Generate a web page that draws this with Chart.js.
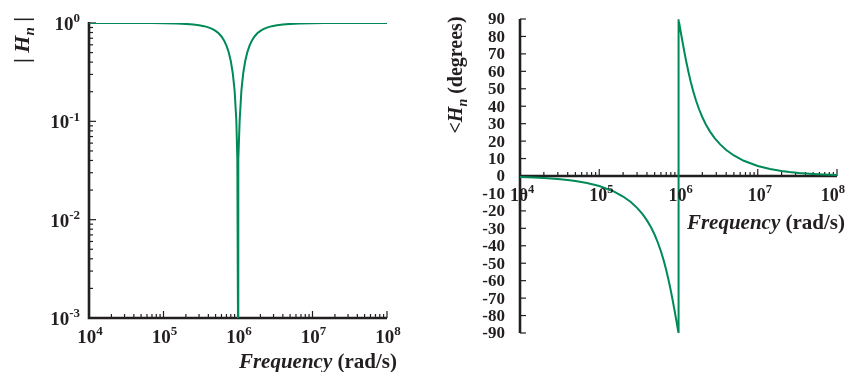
<!DOCTYPE html>
<html>
<head>
<meta charset="utf-8">
<script src="https://cdn.jsdelivr.net/npm/chart.js@4/dist/chart.umd.min.js"></script>
<style>
  html, body { margin: 0; padding: 0; background: #fff; }
  #wrap { position: relative; width: 847px; height: 372px; overflow: hidden; }
  canvas { position: absolute; top: 0; }
</style>
</head>
<body>
<div id="wrap">
  <canvas id="magChart" width="420" height="372" style="left:0;width:420px;height:372px;"></canvas>
  <canvas id="phaseChart" width="427" height="372" style="left:420px;width:427px;height:372px;"></canvas>
</div>
<script>
// ── Dados (filtro notch, w0 = 1e6 rad/s)
const FREQ = [
  1e4, 1.5e4, 2e4, 3e4, 4e4, 5e4, 7e4, 1e5, 1.5e5, 2e5, 2.5e5, 3e5, 3.5e5, 4e5, 4.5e5, 5e5,
  5.5e5, 6e5, 6.5e5, 7e5, 7.5e5, 8e5, 8.5e5, 9e5, 9.5e5, 9.8e5, 9.9e5, 9.95e5, 9.99e5, 1e6,
  1.001e6, 1.005e6, 1.0101e6, 1.0204e6, 1.0526e6, 1.1111e6, 1.1765e6, 1.25e6, 1.3333e6,
  1.4286e6, 1.5385e6, 1.6667e6, 1.8182e6, 2e6, 2.2222e6, 2.5e6, 2.8571e6, 3.3333e6,
  4e6, 5e6, 6.6667e6, 1e7, 1.4286e7, 2e7, 2.5e7, 3.3333e7, 5e7, 6.6667e7, 1e8
];
const MAG = [
  0.99995, 0.99989, 0.9998, 0.99955, 0.9992, 0.9988, 0.99754, 0.9949, 0.9884, 0.9790,
  0.9662, 0.9497, 0.9289, 0.9029, 0.8709, 0.8321, 0.7852, 0.7295, 0.6642, 0.5889, 0.5039,
  0.4104, 0.3103, 0.2066, 0.1021, 0.0404, 0.0201, 0.0100, 0.0020, 0.001,
  0.0020, 0.0100, 0.0201, 0.0404, 0.1021, 0.2066, 0.3103, 0.4104, 0.5039, 0.5889, 0.6642,
  0.7295, 0.7852, 0.8321, 0.8709, 0.9029, 0.9289, 0.9497, 0.9662, 0.9790, 0.9884, 0.9949,
  0.99754, 0.9988, 0.9992, 0.99955, 0.9998, 0.99989, 0.99995
];
const PHASE = [
  -0.57, -0.86, -1.15, -1.72, -2.29, -2.87, -4.02, -5.77, -8.72, -11.77, -14.93, -18.25,
  -21.75, -25.46, -29.43, -33.69, -38.26, -43.15, -48.38, -53.92, -59.74, -65.77, -71.92,
  -78.08, -84.14, -87.69, -88.85, -89.43, -89.89, null,
  89.89, 89.43, 88.85, 87.69, 84.14, 78.08, 71.92, 65.77, 59.74, 53.92, 48.38, 43.15,
  38.26, 33.69, 29.43, 25.46, 21.75, 18.25, 14.93, 11.77, 8.72, 5.77, 4.02, 2.87, 2.29,
  1.72, 1.15, 0.86, 0.57
];

// ── Ticks
const X_DECADES = [1e4, 1e5, 1e6, 1e7, 1e8];
const X_EXP = ['4', '5', '6', '7', '8'];
const MAG_DECADES = [1, 0.1, 0.01, 0.001];
const MAG_EXP = ['0', '-1', '-2', '-3'];
const MINOR = [2, 3, 4, 5, 6, 7, 8, 9];
const PHASE_TICKS = [90, 80, 70, 60, 50, 40, 30, 20, 10, 0, -10, -20, -30, -40, -50, -60, -70, -80, -90];

const GREEN = '#008a57';
const INK = '#231f20';
const SERIF = '"Liberation Serif", "Times New Roman", serif';

// desenha "10^exp"
function drawPow(ctx, exp, x, y, align, base, sup, maxRight) {
  ctx.font = `bold ${base}px ${SERIF}`;
  const w1 = ctx.measureText('10').width;
  ctx.font = `bold ${sup}px ${SERIF}`;
  const w2 = ctx.measureText(exp).width;
  let x0 = x;
  if (align === 'center') x0 = x - (w1 + w2) / 2;
  else if (align === 'right') x0 = x - w1 - w2;
  if (maxRight && x0 + w1 + w2 > maxRight) x0 = maxRight - w1 - w2;
  ctx.textAlign = 'left';
  ctx.textBaseline = 'alphabetic';
  ctx.fillStyle = INK;
  ctx.font = `bold ${base}px ${SERIF}`;
  ctx.fillText('10', x0, y);
  ctx.font = `bold ${sup}px ${SERIF}`;
  ctx.fillText(exp, x0 + w1, y - base * 0.4);
}

// desenha sequência de pedaços de texto [texto, fonte, deslocamento y]
function drawRuns(ctx, runs, x, y, align) {
  let total = 0;
  runs.forEach(r => { ctx.font = r[1]; total += ctx.measureText(r[0]).width; });
  let cx = align === 'center' ? x - total / 2 : align === 'right' ? x - total : x;
  ctx.textAlign = 'left';
  ctx.textBaseline = 'alphabetic';
  ctx.fillStyle = INK;
  runs.forEach(r => {
    ctx.font = r[1];
    ctx.fillText(r[0], cx, y + (r[2] || 0));
    cx += ctx.measureText(r[0]).width;
  });
}

function freqTitle(ctx, xRight, yBase) {
  drawRuns(ctx, [
    ['Frequency', `italic bold 21px ${SERIF}`],
    [' (rad/s)', `bold 21px ${SERIF}`]
  ], xRight, yBase, 'right');
}

// x log ticks (para cima, a partir da linha yAxis)
function drawXLogTicks(ctx, xs, yAxis) {
  ctx.strokeStyle = INK;
  ctx.lineWidth = 1.2;
  X_DECADES.forEach((d, i) => {
    const vals = [d].concat(i < X_DECADES.length - 1 ? MINOR.map(m => d * m) : []);
    vals.forEach((v, j) => {
      const px = xs.getPixelForValue(v);
      const len = j === 0 ? 7 : 4;
      ctx.beginPath(); ctx.moveTo(px, yAxis); ctx.lineTo(px, yAxis - len); ctx.stroke();
    });
  });
}

const magAxes = {
  id: 'magAxes',
  beforeDatasetsDraw(chart) {
    const { ctx, chartArea: a, scales: { x, y } } = chart;
    ctx.save();
    drawXLogTicks(ctx, x, a.bottom);
    ctx.lineWidth = 1.2;
    MAG_DECADES.forEach((d, i) => {
      const vals = [d].concat(i < MAG_DECADES.length - 1 ? MINOR.map(m => d / 10 * m) : []);
      vals.forEach((v, j) => {
        const py = y.getPixelForValue(v);
        const len = j === 0 ? 7 : 4;
        ctx.beginPath(); ctx.moveTo(a.left, py); ctx.lineTo(a.left + len, py); ctx.stroke();
      });
    });
    ctx.lineWidth = 2.6;
    ctx.beginPath();
    ctx.moveTo(a.left, a.top - 1);
    ctx.lineTo(a.left, a.bottom);
    ctx.lineTo(a.right, a.bottom);
    ctx.stroke();
    ctx.restore();
  },
  afterDraw(chart) {
    const { ctx, chartArea: a, scales: { x, y } } = chart;
    ctx.save();
    X_DECADES.forEach((d, i) => drawPow(ctx, X_EXP[i], x.getPixelForValue(d) + 1, a.bottom + 25, 'center', 19, 13));
    MAG_DECADES.forEach((d, i) => drawPow(ctx, MAG_EXP[i], 80, y.getPixelForValue(d) + 7, 'right', 19, 13));
    freqTitle(ctx, 397, 368);
    ctx.translate(29, 40);
    ctx.rotate(-Math.PI / 2);
    drawRuns(ctx, [
      ['| ', `bold 22px ${SERIF}`],
      ['H', `italic bold 22px ${SERIF}`],
      ['n', `italic bold 15px ${SERIF}`, 5],
      [' |', `bold 22px ${SERIF}`]
    ], 0, 0, 'center');
    ctx.restore();
  }
};

const phaseAxes = {
  id: 'phaseAxes',
  beforeDatasetsDraw(chart) {
    const { ctx, chartArea: a, scales: { x, y } } = chart;
    const y0 = y.getPixelForValue(0);
    ctx.save();
    drawXLogTicks(ctx, x, y0);
    ctx.lineWidth = 1.2;
    PHASE_TICKS.forEach(v => {
      const py = y.getPixelForValue(v);
      ctx.beginPath(); ctx.moveTo(a.left, py); ctx.lineTo(a.left + 6, py); ctx.stroke();
    });
    ctx.lineWidth = 2.6;
    ctx.beginPath(); ctx.moveTo(a.left, a.top); ctx.lineTo(a.left, a.bottom); ctx.stroke();
    ctx.beginPath(); ctx.moveTo(a.left, y0); ctx.lineTo(a.right, y0); ctx.stroke();
    ctx.restore();
  },
  afterDraw(chart) {
    const { ctx, chartArea: a, scales: { x, y } } = chart;
    const y0 = y.getPixelForValue(0);
    ctx.save();
    ctx.fillStyle = INK;
    ctx.font = `bold 17px ${SERIF}`;
    ctx.textAlign = 'right';
    ctx.textBaseline = 'middle';
    PHASE_TICKS.forEach(v => ctx.fillText(String(v), 85, y.getPixelForValue(v) + 1));
    X_DECADES.forEach((d, i) => drawPow(ctx, X_EXP[i], x.getPixelForValue(d) + 2, y0 + 24.5, 'center', 18, 12.5, 425));
    freqTitle(ctx, 425, 229);
    ctx.translate(42, 75);
    ctx.rotate(-Math.PI / 2);
    drawRuns(ctx, [
      ['<', `bold 20px ${SERIF}`],
      ['H', `italic bold 20px ${SERIF}`],
      ['n', `italic bold 14px ${SERIF}`, 5],
      [' (degrees)', `bold 20px ${SERIF}`]
    ], 0, 0, 'center');
    ctx.restore();
  }
};

function baseOptions(padding, yScale) {
  return {
    responsive: false,
    animation: false,
    devicePixelRatio: 1,
    layout: { padding },
    plugins: { legend: { display: false }, tooltip: { enabled: false } },
    elements: { point: { radius: 0 } },
    scales: {
      x: { type: 'logarithmic', min: 1e4, max: 1e8, display: false },
      y: Object.assign({ display: false }, yScale)
    }
  };
}

new Chart(document.getElementById('magChart'), {
  type: 'line',
  data: {
    datasets: [{
      data: FREQ.map((f, i) => ({ x: f, y: MAG[i] })),
      borderColor: GREEN, borderWidth: 2, tension: 0, fill: false
    }]
  },
  options: baseOptions({ left: 89, right: 33, top: 23, bottom: 54 }, { type: 'logarithmic', min: 0.001, max: 1 }),
  plugins: [magAxes]
});

new Chart(document.getElementById('phaseChart'), {
  type: 'line',
  data: {
    datasets: [{
      data: FREQ.map((f, i) => ({ x: f, y: PHASE[i] })),
      borderColor: GREEN, borderWidth: 2, tension: 0, fill: false, spanGaps: true
    }]
  },
  options: baseOptions({ left: 100, right: 10, top: 19, bottom: 39 }, { type: 'linear', min: -90, max: 90 }),
  plugins: [phaseAxes]
});
</script>
</body>
</html>
